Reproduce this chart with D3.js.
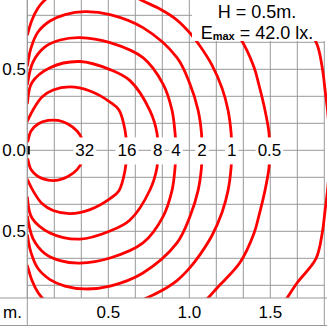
<!DOCTYPE html>
<html>
<head>
<meta charset="utf-8">
<script src="https://cdn.jsdelivr.net/npm/d3@7"></script>
<style>
body { margin: 0; background: #fff; }
svg { display: block; font-family: "Liberation Sans", Arial, sans-serif; }
</style>
</head>
<body>
<svg id="chart" width="327" height="326"></svg>
<script>
var settings = {
    width: 327,
    height: 326,
    left: 27.3,
    right: 324.3,
    zeroY: 150.3,
    bottom: 298,
    pxPerM: 162
};

// isolux lines, lx
var levels = ["32", "16", "8", "4", "2", "1", "0.5", "0.25"];

// points, [x m, y m], wall at x = 0
var c32 = [[0.004,0.057],[0.023,0.119],[0.066,0.162],[0.128,0.184],[0.19,0.184],[0.251,0.162],[0.307,0.119],[0.341,0.064],[0.355,0],
    [0.341,-0.064],[0.307,-0.119],[0.251,-0.162],[0.19,-0.184],[0.128,-0.184],[0.066,-0.162],[0.023,-0.119],[0.004,-0.057]];
var c16 = [[0.001,0.181],[0.035,0.249],[0.091,0.329],[0.159,0.372],[0.264,0.391],[0.387,0.366],[0.511,0.298],[0.566,0.249],[0.603,0.125],[0.615,0],
    [0.603,-0.125],[0.566,-0.249],[0.511,-0.298],[0.387,-0.366],[0.264,-0.391],[0.159,-0.372],[0.091,-0.329],[0.035,-0.249],[0.001,-0.181]];
var c8 = [[0.001,0.292],[0.029,0.418],[0.140,0.510],[0.325,0.548],[0.511,0.498],[0.634,0.430],[0.757,0.245],[0.801,0.103],[0.805,0],
    [0.801,-0.103],[0.757,-0.245],[0.634,-0.430],[0.511,-0.498],[0.325,-0.548],[0.140,-0.510],[0.029,-0.418],[0.001,-0.292]];
var c4 = [[0.001,0.409],[0.035,0.545],[0.109,0.638],[0.202,0.681],[0.325,0.696],[0.511,0.665],[0.714,0.572],[0.838,0.409],[0.893,0.249],[0.912,0.107],[0.918,0],
    [0.912,-0.107],[0.893,-0.249],[0.838,-0.409],[0.714,-0.572],[0.511,-0.665],[0.325,-0.696],[0.202,-0.681],[0.109,-0.638],[0.035,-0.545],[0.001,-0.409]];
var c2 = [[0.001,0.525],[0.023,0.632],[0.066,0.730],[0.140,0.798],[0.233,0.838],[0.356,0.856],[0.511,0.838],[0.714,0.757],[0.924,0.572],[1.004,0.409],[1.054,0.249],[1.075,0.107],[1.078,0],
    [1.075,-0.107],[1.054,-0.249],[1.004,-0.409],[0.924,-0.572],[0.714,-0.757],[0.511,-0.838],[0.356,-0.856],[0.233,-0.838],[0.140,-0.798],[0.066,-0.730],[0.023,-0.632],[0.001,-0.525]];
var c1 = [[0.001,0.714],[0.029,0.804],[0.066,0.878],[0.109,0.928],[0.202,0.989],[0.387,1.027],[0.572,1.002],[0.702,0.928],[0.819,0.872],[0.924,0.804],[1.004,0.724],[1.066,0.644],[1.140,0.526],[1.202,0.384],[1.239,0.249],[1.258,0.107],[1.262,0],
    [1.258,-0.107],[1.239,-0.249],[1.202,-0.384],[1.140,-0.526],[1.066,-0.644],[1.004,-0.724],[0.924,-0.804],[0.819,-0.872],[0.702,-0.928],[0.572,-1.002],[0.387,-1.027],[0.202,-0.989],[0.109,-0.928],[0.066,-0.878],[0.029,-0.804],[0.001,-0.714]];
var c05 = [[1.035,0.977],[1.115,0.912],[1.171,0.850],[1.313,0.693],[1.399,0.514],[1.430,0.403],[1.467,0.249],[1.492,0.107],[1.495,0],
    [1.492,-0.107],[1.467,-0.249],[1.430,-0.403],[1.399,-0.514],[1.313,-0.693],[1.171,-0.850],[1.115,-0.912],[1.035,-0.977]];
var c025 = [[1.560,0.977],[1.603,0.912],[1.665,0.819],[1.782,0.669],[1.820,0.514],[1.838,0.372],[1.856,0.218],[1.868,0],
    [1.856,-0.218],[1.838,-0.372],[1.820,-0.514],[1.782,-0.669],[1.665,-0.819],[1.603,-0.912],[1.560,-0.977]];
var curves = [c32, c16, c8, c4, c2, c1, c05, c025];

var xTicks = [0.5, 1.0, 1.5];
var yTicks = [0.5, 0.0, -0.5];
var heightText = "H = 0.5m.";
var emaxText = " = 42.0 lx.";

var svg = d3.select("#chart");

var x = d3.scaleLinear()
    .domain([0, 11 / 6])
    .range([settings.left, settings.right]);
var y = d3.scaleLinear()
    .domain([-1, 1])
    .range([settings.zeroY + settings.pxPerM, settings.zeroY - settings.pxPerM]);

svg.append("rect").attr("width", settings.width).attr("height", settings.height).attr("fill", "#fff");

// grid, 1/6 m
var grid = svg.append("g").attr("stroke", "#999").attr("stroke-width", 1);
grid.selectAll(".gx")
    .data(d3.range(0, 12).map(function(k) { return k / 6; }))
    .enter().append("line")
    .attr("x1", function(d) { return x(d); })
    .attr("x2", function(d) { return x(d); })
    .attr("y1", 0)
    .attr("y2", settings.bottom);
grid.selectAll(".gy")
    .data(d3.range(-5, 6).map(function(k) { return k / 6; }))
    .enter().append("line")
    .attr("x1", settings.left)
    .attr("x2", settings.right)
    .attr("y1", function(d) { return y(d); })
    .attr("y2", function(d) { return y(d); });

svg.append("clipPath").attr("id", "plotClip")
    .append("rect")
    .attr("x", settings.left)
    .attr("y", 0)
    .attr("width", settings.width - settings.left)
    .attr("height", settings.bottom);

var line = d3.line()
    .x(function(d) { return x(d[0]); })
    .y(function(d) { return y(d[1]); })
    .curve(d3.curveCatmullRom.alpha(0.5));

svg.append("g")
    .attr("clip-path", "url(#plotClip)")
    .selectAll("path")
    .data(curves)
    .enter().append("path")
    .attr("d", line)
    .attr("fill", "none")
    .attr("stroke", "#ff0000")
    .attr("stroke-width", 2.8)
    .attr("stroke-linecap", "round");

// luminaire mark at the wall
svg.append("rect")
    .attr("x", x(0) - 0.5)
    .attr("y", y(0.026))
    .attr("width", 3)
    .attr("height", y(-0.026) - y(0.026))
    .attr("fill", "#000");

// curve labels on y = 0
var labels = svg.append("g").attr("font-size", 17).attr("text-anchor", "middle");
curves.forEach(function(c, i) {
    var p = c.find(function(d) { return d[1] === 0; });
    if (x(p[0]) > settings.right) return;
    var g = labels.append("g");
    var t = g.append("text")
        .attr("x", x(p[0]))
        .attr("y", y(0))
        .attr("dy", "0.36em")
        .text(levels[i]);
    var b = t.node().getBBox();
    g.insert("rect", "text")
        .attr("x", b.x - 2)
        .attr("y", b.y - 4)
        .attr("width", b.width + 4)
        .attr("height", b.height + 8)
        .attr("fill", "#fff");
});

// legend
svg.append("rect")
    .attr("x", 192).attr("y", 0)
    .attr("width", settings.width - 192).attr("height", 41)
    .attr("fill", "#fff");
svg.append("text")
    .attr("x", 257).attr("y", 18)
    .attr("text-anchor", "middle")
    .attr("font-size", 18)
    .text(heightText);
var em = svg.append("text")
    .attr("x", 257).attr("y", 39)
    .attr("text-anchor", "middle")
    .attr("font-size", 18);
em.append("tspan").text("E");
em.append("tspan").attr("font-size", 11).attr("font-weight", "bold").attr("dy", 1).text("max");
em.append("tspan").attr("dy", -1).text(emaxText);

// frame of the axis bands
var frame = svg.append("g").attr("stroke", "#999").attr("stroke-width", 1);
frame.append("line").attr("x1", 0).attr("x2", settings.width).attr("y1", settings.bottom).attr("y2", settings.bottom);
frame.append("line").attr("x1", 0).attr("x2", settings.width).attr("y1", settings.height - 0.5).attr("y2", settings.height - 0.5);
frame.append("line").attr("x1", x(0)).attr("x2", x(0)).attr("y1", 0).attr("y2", settings.height);
frame.append("line").attr("x1", settings.right).attr("x2", settings.right).attr("y1", settings.bottom).attr("y2", settings.height);

// axis labels
svg.append("g").attr("font-size", 17).attr("text-anchor", "middle")
    .selectAll("text").data(xTicks).enter().append("text")
    .attr("x", function(d) { return x(d); })
    .attr("y", 318)
    .text(function(d) { return d.toFixed(1); });
svg.append("text").attr("x", 3).attr("y", 318).attr("font-size", 17).text("m.");
svg.append("g").attr("font-size", 17).attr("text-anchor", "end")
    .selectAll("text").data(yTicks).enter().append("text")
    .attr("x", 26)
    .attr("y", function(d) { return y(d); })
    .attr("dy", "0.36em")
    .text(function(d) { return Math.abs(d).toFixed(1); });
</script>
</body>
</html>
